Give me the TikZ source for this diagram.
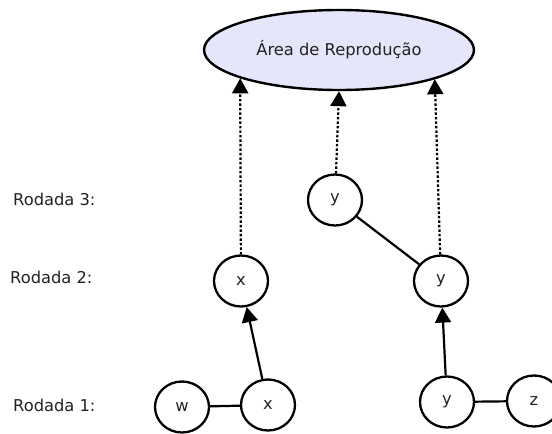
\documentclass[tikz,border=0pt]{standalone}
\usepackage{fontspec}
\setmainfont{DejaVu Sans}
\usetikzlibrary{shapes.geometric,arrows.meta}
\definecolor{lav}{HTML}{E6E6FA}
\definecolor{txt}{HTML}{222222}
\begin{document}
\begin{tikzpicture}[x=1pt,y=-1pt,
  every node/.style={font=\fontsize{16.3}{19}\selectfont, text=txt},
  areabox/.style={draw=black, fill=lav, ellipse, line width=2.4pt, minimum width=270pt, minimum height=80pt, inner sep=0pt},
  vtx/.style={draw=black, ellipse, line width=2.3pt, minimum width=54pt, minimum height=51pt, inner sep=0pt},
  lbl/.style={anchor=west, inner sep=0pt},
  linkline/.style={draw=black, line width=2.2pt},
  growarrow/.style={linkline, -{Triangle[length=15pt,width=16pt]}},
  promotearrow/.style={draw=black, line width=2.2pt, dash pattern=on 2.5pt off 2pt, -{Triangle[length=15pt,width=16pt]}}]
\clip (0,0) rectangle (552,434);
\node[areabox] (area) at (339,50) {Área de Reprodução};
\node[lbl] (r3) at (13,199) {Rodada 3:};
\node[lbl] (r2) at (10,277) {Rodada 2:};
\node[lbl] (r1) at (13,405) {Rodada 1:};
\node[vtx] (y3) at (335,200) {y};
\node[vtx] (x2) at (241,281) {x};
\node[vtx] (y2) at (441,281) {y};
\node[vtx] (w) at (182,407) {w};
\node[vtx] (x1) at (268,405) {x};
\node[vtx] (y1) at (447,402) {y};
\node[vtx] (z) at (534,401) {z};
\draw[linkline] (w) -- (x1);
\draw[linkline] (y1) -- (z);
\draw[growarrow] (x1) -- (x2);
\draw[growarrow] (y1) -- (y2);
\draw[linkline] (y3) -- (y2);
\draw[promotearrow] (x2) -- (area.196);
\draw[promotearrow] (y3) -- (area.south);
\draw[promotearrow] (y2) -- (area.343);
\end{tikzpicture}
\end{document}
